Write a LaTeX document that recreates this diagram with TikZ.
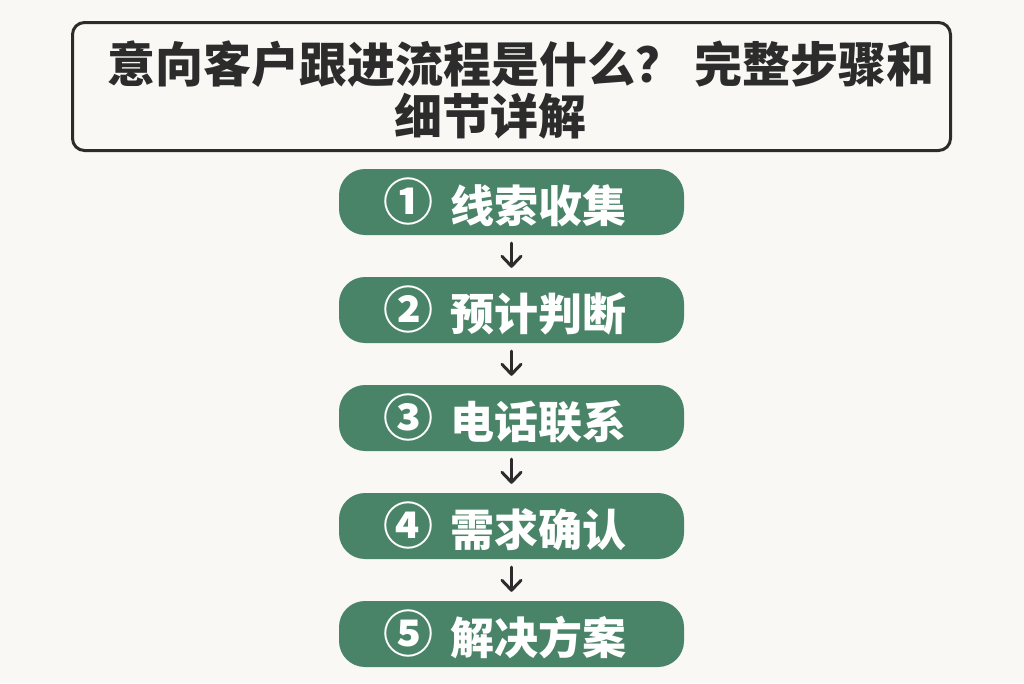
\documentclass[tikz,border=0pt]{standalone}
\usepackage{fontspec}
\newfontfamily\cjk{Noto Sans CJK SC}
\usetikzlibrary{arrows.meta}
\definecolor{bg}{HTML}{F9F8F4}
\definecolor{pillgreen}{HTML}{4A8468}
\definecolor{ink}{HTML}{2C2C2C}
\tikzset{
  pill/.style={fill=pillgreen, rounded corners=26pt, minimum width=345pt, minimum height=66pt, inner sep=0pt},
  pilltext/.style={anchor=base west, inner sep=0pt, text=white, font=\cjk\bfseries\fontsize{44}{50}\selectfont},
  pillnum/.style={anchor=base, inner sep=0pt, text=white, font=\cjk\bfseries\fontsize{50}{56}\selectfont},
  titletext/.style={anchor=base west, inner sep=0pt, text=ink, font=\cjk\bfseries\fontsize{48}{54}\selectfont},
  flow/.style={draw=ink, line width=3pt, line cap=round, -{Straight Barb[length=10pt,width=19pt,line width=3pt,round]}},
}
\begin{document}
\begin{tikzpicture}[x=1pt,y=-1pt]
\useasboundingbox[fill=bg] (0,0) rectangle (1024,683);
\node[draw=ink, line width=3pt, rounded corners=12pt, minimum width=878pt, minimum height=128pt, inner sep=0pt] (title) at (511.5,86.5) {};
\node[titletext] (t1) at (107,82) {意向客户跟进流程是什么？ 完整步骤和};
\node[titletext] (t2) at (394,134) {细节详解};
\foreach \i/\num/\txt in {1/①/线索收集, 2/②/预计判断, 3/③/电话联系, 4/④/需求确认, 5/⑤/解决方案} {
  \node[pill] (p\i) at (511.5, {202+108*(\i-1)}) {};
  \node[pillnum] (n\i) at (408, {220+108*(\i-1)}) {\num};
  \node[pilltext] (l\i) at (450, {222+108*(\i-1)}) {\txt};
}
\foreach \a/\b in {1/2,2/3,3/4,4/5} {
  \draw[flow] ([yshift=-8pt]p\a.south) -- ([yshift=9pt]p\b.north);
}
\end{tikzpicture}
\end{document}
